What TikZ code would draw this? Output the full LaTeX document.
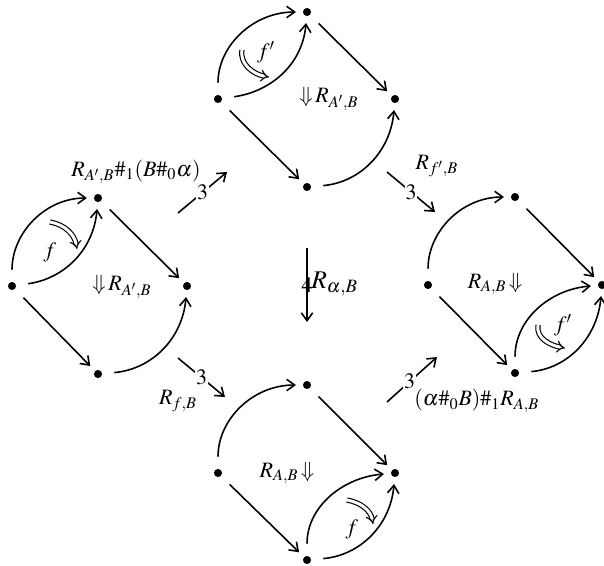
\documentclass[tikz,border=0pt]{standalone}
\usepackage{amsmath,amssymb}
\usepackage{mathptmx}
\usetikzlibrary{arrows.meta, positioning, calc}

\begin{document}
\begin{tikzpicture}[
    x=0.02cm, y=-0.02cm,
    dot/.style={circle, fill, inner sep=0pt, minimum size=4.6pt, outer sep=4pt},
    arr/.style={-{Straight Barb[length=4.5pt,width=6.5pt]}, line width=0.9pt, shorten <=3pt},
    cellarr/.style={-{Straight Barb[length=4.5pt,width=6.5pt]}, line width=0.9pt},
    twocell/.style={-{Implies}, double, double distance=1.7pt, line width=0.65pt},
    lbl/.style={font=\fontsize{12.5}{14}\selectfont, inner sep=0pt},
]
\useasboundingbox (0,0) rectangle (604,565);

% left square
\node[dot] (ll) at (12,286) {};
\node[dot] (lt) at (98,198) {};
\node[dot] (lr) at (187,286) {};
\node[dot] (lb) at (98,374) {};
\draw[arr] (ll) to[out=90,in=180] (lt);
\draw[arr] (ll) to[out=8,in=-95] (lt);
\draw[arr] (ll) -- (lb);
\draw[arr] (lt) -- (lr);
\draw[arr] (lb) to[out=5,in=-95] (lr);
\coordinate (lf-a) at (50,222);
\coordinate (lf-b) at (77,249);
\draw[twocell] (lf-a) to[out=-10,in=100] (lf-b);
\node[lbl] (lf) at (50,252) {$f$};
\node[lbl] (lcell) at (122,287) {$\Downarrow\!R_{A',B}$};

% top square
\node[dot] (tl) at (218,99) {};
\node[dot] (tt) at (307,12) {};
\node[dot] (tr) at (395,99) {};
\node[dot] (tb) at (307,187) {};
\draw[arr] (tl) to[out=90,in=180] (tt);
\draw[arr] (tl) to[out=8,in=-95] (tt);
\draw[arr] (tl) -- (tb);
\draw[arr] (tt) -- (tr);
\draw[arr] (tb) to[out=5,in=-95] (tr);
\coordinate (tf-a) at (242,50);
\coordinate (tf-b) at (269,77);
\draw[twocell] (tf-a) to[out=-100,in=170] (tf-b);
\node[lbl] (tf) at (266,52) {$f'$};
\node[lbl] (tcell) at (329,99) {$\Downarrow\!R_{A',B}$};

% right square
\node[dot] (rl) at (428,285) {};
\node[dot] (rt) at (515,197) {};
\node[dot] (rr) at (602,285) {};
\node[dot] (rb) at (515,373) {};
\draw[arr] (rl) to[out=90,in=180] (rt);
\draw[arr] (rl) -- (rb);
\draw[arr] (rt) -- (rr);
\draw[arr] (rb) to[out=90,in=185] (rr);
\draw[arr] (rb) to[out=5,in=-95] (rr);
\coordinate (rf-a) at (538,325);
\coordinate (rf-b) at (565,348);
\draw[twocell] (rf-a) to[out=-100,in=170] (rf-b);
\node[lbl] (rf) at (563,325) {$f'$};
\node[lbl] (rcell) at (495,284) {$R_{A,B}\!\Downarrow$};

% bottom square
\node[dot] (bl) at (218,473) {};
\node[dot] (bt) at (307,385) {};
\node[dot] (br) at (395,473) {};
\node[dot] (bb) at (307,560) {};
\draw[arr] (bl) to[out=90,in=180] (bt);
\draw[arr] (bl) -- (bb);
\draw[arr] (bt) -- (br);
\draw[arr] (bb) to[out=90,in=185] (br);
\draw[arr] (bb) to[out=5,in=-95] (br);
\coordinate (bf-a) at (347,500);
\coordinate (bf-b) at (373,524);
\draw[twocell] (bf-a) to[out=-10,in=100] (bf-b);
\node[lbl] (bf) at (352,529) {$f$};
\node[lbl] (bcell) at (287,473) {$R_{A,B}\!\Downarrow$};

% 3-cells between the squares
\coordinate (m1-a) at (178,213);
\coordinate (m1-b) at (227,172);
\draw[cellarr] (m1-a) -- node[lbl, fill=white, inner sep=0.3pt] (m1) {$3$} (m1-b);
\node[lbl] (m1-lbl) at (136,172) {$R_{A',B}\#_1(B\#_0\alpha)$};

\coordinate (m2-a) at (178,358);
\coordinate (m2-b) at (225,397);
\draw[cellarr] (m2-a) -- node[lbl, fill=white, inner sep=0.3pt] (m2) {$3$} (m2-b);
\node[lbl] (m2-lbl) at (178,401) {$R_{f,B}$};

\coordinate (m3-a) at (387,172);
\coordinate (m3-b) at (435,212);
\draw[cellarr] (m3-a) -- node[lbl, fill=white, inner sep=0.3pt] (m3) {$3$} (m3-b);
\node[lbl] (m3-lbl) at (437,166) {$R_{f',B}$};

\coordinate (m4-a) at (387,402);
\coordinate (m4-b) at (437,357);
\draw[cellarr] (m4-a) -- node[lbl, fill=white, inner sep=0.3pt, pos=0.45] (m4) {$3$} (m4-b);
\node[lbl, anchor=west] (m4-lbl) at (414,401) {$(\alpha\#_0B)\#_1R_{A,B}$};

% the 4-cell in the middle
\coordinate (c-a) at (307,248);
\coordinate (c-b) at (307,322);
\draw[cellarr] (c-a) -- node[lbl, inner sep=0pt] (c4) {$4$} (c-b);
\node[font=\fontsize{14.5}{16}\selectfont, anchor=west, inner sep=0pt] (c-lbl) at (311,284) {$R_{\alpha,B}$};
\end{tikzpicture}
\end{document}
